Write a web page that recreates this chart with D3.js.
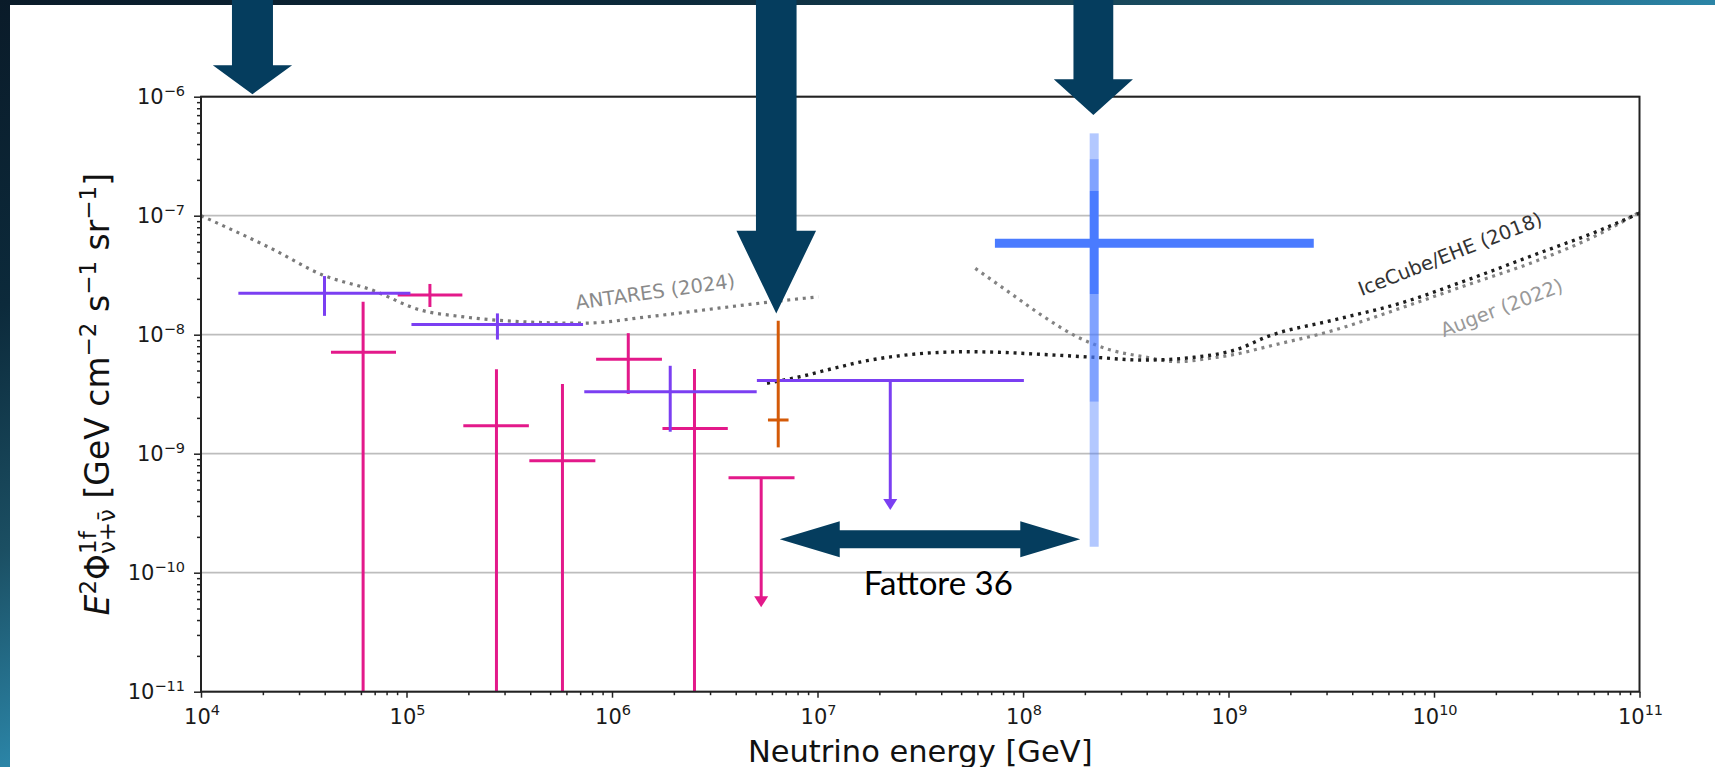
<!DOCTYPE html>
<html>
<head>
<meta charset="utf-8">
<script src="https://cdn.jsdelivr.net/npm/d3@7"></script>
<style>
  html, body { margin: 0; padding: 0; background: #0b1f2f; overflow: hidden; }
  svg { display: block; }
</style>
</head>
<body>
<div id="chart"></div>
<script>
// ===== data =====
const xDecades = [1e4, 1e5, 1e6, 1e7, 1e8, 1e9, 1e10, 1e11];
const yDecades = [1e-11, 1e-10, 1e-9, 1e-8, 1e-7, 1e-6];
const xExp = ['4', '5', '6', '7', '8', '9', '10', '11'];
const yExp = ['\u221211', '\u221210', '\u22129', '\u22128', '\u22127', '\u22126'];

// [E lo, E, E hi, flux, flux lo, flux hi]  (flux lo 0 = down to the axis)
const purpleRows = [
  [1.52e4, 3.99e4, 1.045e5, 2.23e-8, 1.44e-8, 3.11e-8],
  [1.057e5, 2.77e5, 7.23e5, 1.22e-8, 9.1e-9, 1.51e-8],
  [7.33e5, 1.92e6, 5.06e6, 3.32e-9, 1.53e-9, 5.48e-9]
];
// [E lo, E arrow, E hi, limit, arrow tip]
const purpleLimit = [5.07e6, 2.26e7, 1.01e8, 4.12e-9, 3.37e-10];

const pinkRows = [
  [9.06e4, 1.30e5, 1.87e5, 2.16e-8, 1.71e-8, 2.67e-8],
  [4.29e4, 6.15e4, 8.89e4, 7.11e-9, 0, 1.89e-8],
  [1.89e5, 2.74e5, 3.94e5, 1.72e-9, 0, 5.12e-9],
  [3.96e5, 5.74e5, 8.30e5, 8.73e-10, 0, 3.86e-9],
  [8.37e5, 1.20e6, 1.75e6, 6.22e-9, 3.18e-9, 1.03e-8],
  [1.76e6, 2.52e6, 3.66e6, 1.63e-9, 0, 5.15e-9]
];
const pinkLimit = [3.69e6, 5.32e6, 7.73e6, 6.28e-10, 5.12e-11];

const orangeRows = [[5.74e6, 6.44e6, 7.23e6, 1.92e-9, 1.13e-9, 1.31e-8]];

// KM3NeT event
const km3E = [7.3e7, 2.22e8, 2.6e9];
const km3Flux = 5.86e-8;
const km3Bands = [[1.65e-10, 4.92e-7], [2.73e-9, 2.99e-7], [2.20e-8, 1.61e-7]]; // 3, 2, 1 sigma

// sensitivity curves
const antaresE = [1.0e4, 2.2e4, 3.90e4, 6.76e4, 1.17e5, 1.85e5, 3.51e5, 7.29e5, 1.52e6, 3.78e6, 5.98e6, 1.01e7];
const antaresF = [1.0e-7, 5.3e-8, 3.18e-8, 2.38e-8, 1.61e-8, 1.42e-8, 1.29e-8, 1.25e-8, 1.42e-8, 1.72e-8, 1.89e-8, 2.08e-8];

const icecubeE = [5.68e6, 8.24e6, 1.20e7, 1.74e7, 2.53e7, 3.67e7, 5.35e7, 7.76e7, 1.13e8, 2.21e8, 3.87e8, 6.78e8,
                  1.14e9, 1.54e9, 3.26e9, 6.87e9, 1.45e10, 3.07e10, 6.47e10, 1.0e11];
const icecubeF = [3.91e-9, 4.44e-9, 5.22e-9, 6.05e-9, 6.67e-9, 7.06e-9, 7.19e-9, 7.11e-9, 6.89e-9, 6.46e-9, 6.12e-9, 6.46e-9,
                  7.69e-9, 9.62e-9, 1.33e-8, 1.84e-8, 2.88e-8, 4.68e-8, 7.59e-8, 1.05e-7];

const augerE = [5.86e7, 8.69e7, 1.26e8, 1.83e8, 2.67e8, 3.87e8, 5.62e8, 8.17e8, 1.14e9, 1.54e9, 3.26e9, 6.87e9,
                1.45e10, 3.07e10, 6.47e10, 9.8e10];
const augerF = [3.61e-8, 2.23e-8, 1.42e-8, 9.62e-9, 7.43e-9, 6.53e-9, 5.93e-9, 6.34e-9, 6.98e-9, 7.93e-9, 1.09e-8, 1.67e-8,
                2.62e-8, 4.10e-8, 7.11e-8, 1.05e-7];

// curve labels: [text, E, flux, angle, colour]
const curveLabels = [
  ['ANTARES (2024)', 1.64e6, 2.02e-8, -8, '#8a8a8a'],
  ['IceCube/EHE (2018)', 1.23e10, 4.21e-8, -21.5, '#333333'],
  ['Auger (2022)', 2.19e10, 1.49e-8, -21, '#999999']
];

// slide arrows: [E of tip, flux of tip]
const downArrows = [[1.78e4, 1.05e-6], [6.3e6, 1.51e-8], [2.2e8, 7.02e-7]];
const factorArrow = [6.55e6, 1.9e8, 1.91e-10];
const factorText = ['Fattore 36', 3.87e7, 6.5e-11];

// ===== layout =====
const W = 1715, H = 767;
const PLOT = { left: 201, right: 1639.5, top: 96.7, bottom: 691.7 };
const FONT = '"DejaVu Sans", sans-serif';
const ARROW_FILL = '#053d5e';
const ARROW_SHAPES = [
  { shaft: 41, head: 79.3, len: 29 },
  { shaft: 40.6, head: 79.6, len: 82.6 },
  { shaft: 39.8, head: 79.2, len: 35.7 }
];

const x = d3.scaleLog().domain([1e4, 1e11]).range([PLOT.left, PLOT.right]);
const y = d3.scaleLog().domain([1e-11, 1e-6]).range([PLOT.bottom, PLOT.top]);
const fy = v => v > 0 ? y(v) : y.range()[0];

const svg = d3.select('#chart').append('svg').attr('width', W).attr('height', H);

// background + white panel
const defs = svg.append('defs');
const grad = defs.append('linearGradient').attr('id', 'bg')
  .attr('x1', 0).attr('y1', 0).attr('x2', 1).attr('y2', 1);
[['0%', '#0a1b29'], ['20%', '#0c2a3b'], ['36%', '#1b4f63'], ['50%', '#2b84a6'], ['100%', '#3aa0c0']]
  .forEach(([o, c]) => grad.append('stop').attr('offset', o).attr('stop-color', c));
svg.append('rect').attr('width', W).attr('height', H).attr('fill', 'url(#bg)');
svg.append('rect').attr('x', 10).attr('y', 5).attr('width', W - 10).attr('height', H - 5).attr('fill', '#fff');

const plot = svg.append('g');

// grid
plot.append('g').selectAll('line').data(yDecades).join('line')
  .attr('x1', PLOT.left).attr('x2', PLOT.right)
  .attr('y1', d => y(d)).attr('y2', d => y(d))
  .attr('stroke', '#bdbdbd').attr('stroke-width', 1.8);

// dotted curves
const line = d3.line().x(d => x(d[0])).y(d => y(d[1])).curve(d3.curveMonotoneX);
function curve(E, F, color, w) {
  plot.append('path').datum(E.map((e, i) => [e, F[i]]))
    .attr('d', line).attr('fill', 'none')
    .attr('stroke', color).attr('stroke-width', w)
    .attr('stroke-dasharray', '3,4.8');
}
curve(antaresE, antaresF, '#7a7a7a', 3.2);
curve(augerE, augerF, '#838383', 3.2);
curve(icecubeE, icecubeF, '#1e1e1e', 3.4);

// error-bar crosses
function crosses(rows, color, w) {
  const g = plot.append('g').attr('stroke', color).attr('stroke-width', w);
  g.selectAll('line.h').data(rows).join('line').attr('class', 'h')
    .attr('x1', d => x(d[0])).attr('x2', d => x(d[2]))
    .attr('y1', d => y(d[3])).attr('y2', d => y(d[3]));
  g.selectAll('line.v').data(rows).join('line').attr('class', 'v')
    .attr('x1', d => x(d[1])).attr('x2', d => x(d[1]))
    .attr('y1', d => fy(d[4])).attr('y2', d => fy(d[5]));
}
function upperLimit(d, color, w) {
  const g = plot.append('g');
  const ax = x(d[1]), tip = y(d[4]);
  g.append('line').attr('x1', x(d[0])).attr('x2', x(d[2]))
    .attr('y1', y(d[3])).attr('y2', y(d[3])).attr('stroke', color).attr('stroke-width', w);
  g.append('line').attr('x1', ax).attr('x2', ax)
    .attr('y1', y(d[3])).attr('y2', tip - 9).attr('stroke', color).attr('stroke-width', w);
  g.append('path').attr('d', `M${ax - 7},${tip - 11}L${ax + 7},${tip - 11}L${ax},${tip}Z`).attr('fill', color);
}

crosses(pinkRows, '#e3198a', 3);
upperLimit(pinkLimit, '#e3198a', 3);
crosses(purpleRows, '#7b3ff2', 3);
upperLimit(purpleLimit, '#7b3ff2', 3);
crosses(orangeRows, '#d45a08', 3);

// KM3NeT point with 1/2/3 sigma bands
const km3 = plot.append('g');
const kx = x(km3E[1]);
const segs = [
  [km3Bands[0][0], km3Bands[1][0], 0.42], [km3Bands[1][1], km3Bands[0][1], 0.42],
  [km3Bands[1][0], km3Bands[2][0], 0.7], [km3Bands[2][1], km3Bands[1][1], 0.7],
  [km3Bands[2][0], km3Bands[2][1], 1]
];
km3.selectAll('line.s').data(segs).join('line').attr('class', 's')
  .attr('x1', kx).attr('x2', kx).attr('y1', d => y(d[0])).attr('y2', d => y(d[1]))
  .attr('stroke', '#4a7bff').attr('stroke-width', 9).attr('stroke-opacity', d => d[2]);
km3.append('line').attr('x1', x(km3E[0])).attr('x2', x(km3E[2]))
  .attr('y1', y(km3Flux)).attr('y2', y(km3Flux))
  .attr('stroke', '#4a7bff').attr('stroke-width', 9);

// frame
svg.append('rect').attr('x', PLOT.left).attr('y', PLOT.top)
  .attr('width', PLOT.right - PLOT.left).attr('height', PLOT.bottom - PLOT.top)
  .attr('fill', 'none').attr('stroke', '#222').attr('stroke-width', 2);

// ticks
const minors = (decs) => decs.slice(0, -1).flatMap(d => d3.range(2, 10).map(k => k * d));
function styleAxis(g) {
  g.select('.domain').remove();
  g.selectAll('line').attr('stroke', '#222').attr('stroke-width', 1.5);
}
svg.append('g').attr('transform', `translate(${PLOT.left},0)`)
  .call(d3.axisLeft(y).tickValues(yDecades).tickSize(7).tickFormat('')).call(styleAxis);
svg.append('g').attr('transform', `translate(${PLOT.left},0)`)
  .call(d3.axisLeft(y).tickValues(minors(yDecades)).tickSize(4).tickFormat('')).call(styleAxis);
svg.append('g').attr('transform', `translate(0,${PLOT.bottom})`)
  .call(d3.axisBottom(x).tickValues(xDecades).tickSize(6).tickFormat('')).call(styleAxis);
svg.append('g').attr('transform', `translate(0,${PLOT.bottom})`)
  .call(d3.axisBottom(x).tickValues(minors(xDecades)).tickSize(3.5).tickFormat('')).call(styleAxis);

// tick labels 10^n
const lab = svg.append('g').attr('font-family', FONT).attr('fill', '#1a1a1a');
lab.selectAll('text.yl').data(yDecades).join('text').attr('class', 'yl')
  .attr('x', PLOT.left - 16).attr('y', d => y(d) + 7.6).attr('text-anchor', 'end').attr('font-size', 21)
  .each(function (d, i) {
    const t = d3.select(this);
    t.append('tspan').text('10');
    t.append('tspan').attr('font-size', 14.5).attr('dy', -8.5).text(yExp[i]);
  });
lab.selectAll('text.xl').data(xDecades).join('text').attr('class', 'xl')
  .attr('x', d => x(d) + 1).attr('y', PLOT.bottom + 32).attr('text-anchor', 'middle').attr('font-size', 21)
  .each(function (d, i) {
    const t = d3.select(this);
    t.append('tspan').text('10');
    t.append('tspan').attr('font-size', 14.5).attr('dy', -8.5).text(xExp[i]);
  });

// axis titles
svg.append('text').attr('x', (PLOT.left + PLOT.right) / 2).attr('y', 761.5)
  .attr('text-anchor', 'middle').attr('font-family', FONT).attr('font-size', 30.5).attr('fill', '#111')
  .text('Neutrino energy [GeV]');

const yt = svg.append('text').attr('font-family', FONT).attr('font-size', 33).attr('fill', '#111')
  .attr('x', 0)
  .attr('transform', `translate(109,${(PLOT.top + PLOT.bottom) / 2}) rotate(-90)`);
yt.append('tspan').attr('font-style', 'italic').text('E');
yt.append('tspan').attr('font-size', 23).attr('dy', -13).text('2');
yt.append('tspan').attr('dy', 13).text('\u03A6');
const sup = yt.append('tspan').attr('font-size', 23).attr('dy', -13).text('1f');
const supLen = sup.node().getComputedTextLength();
yt.append('tspan').attr('font-size', 23).attr('dx', -supLen).attr('dy', 19).text('\u03BD+\u03BD\u0304');
yt.append('tspan').attr('dy', -6).text(' [GeV cm');
yt.append('tspan').attr('font-size', 23).attr('dy', -13).text('\u22122');
yt.append('tspan').attr('dy', 13).text(' s');
yt.append('tspan').attr('font-size', 23).attr('dy', -13).text('\u22121');
yt.append('tspan').attr('dy', 13).text(' sr');
yt.append('tspan').attr('font-size', 23).attr('dy', -13).text('\u22121');
yt.append('tspan').attr('dy', 13).text(']');
const ytBox = yt.node().getBBox();
yt.attr('x', -(ytBox.x + ytBox.width / 2));

// curve labels
svg.append('g').selectAll('text').data(curveLabels).join('text')
  .attr('transform', d => `translate(${x(d[1])},${y(d[2])}) rotate(${d[3]})`)
  .attr('text-anchor', 'middle').attr('font-family', FONT).attr('font-size', 19.5)
  .attr('fill', d => d[4]).text(d => d[0]);

// slide annotations: arrows + text
const ann = svg.append('g').attr('fill', ARROW_FILL);
ann.selectAll('path.down').data(downArrows).join('path').attr('class', 'down')
  .attr('d', (d, i) => {
    const s = ARROW_SHAPES[i], tx = x(d[0]), ty = y(d[1]);
    const hy = ty - s.len;
    return `M${tx - s.shaft / 2},0L${tx + s.shaft / 2},0L${tx + s.shaft / 2},${hy}L${tx + s.head / 2},${hy}` +
      `L${tx},${ty}L${tx - s.head / 2},${hy}L${tx - s.shaft / 2},${hy}Z`;
  });

const fx1 = x(factorArrow[0]), fx2 = x(factorArrow[1]), fyy = y(factorArrow[2]);
const hl = 60, hw = 36.2 / 2, sw = 17.8 / 2;
ann.append('path').attr('d',
  `M${fx1},${fyy}L${fx1 + hl},${fyy - hw}L${fx1 + hl},${fyy - sw}L${fx2 - hl},${fyy - sw}L${fx2 - hl},${fyy - hw}` +
  `L${fx2},${fyy}L${fx2 - hl},${fyy + hw}L${fx2 - hl},${fyy + sw}L${fx1 + hl},${fyy + sw}L${fx1 + hl},${fyy + hw}Z`);

svg.append('text').attr('x', x(factorText[1])).attr('y', y(factorText[2]))
  .attr('text-anchor', 'middle').attr('font-family', 'Lato, sans-serif').attr('font-size', 33)
  .attr('fill', '#000').text(factorText[0]);
</script>
</body>
</html>
